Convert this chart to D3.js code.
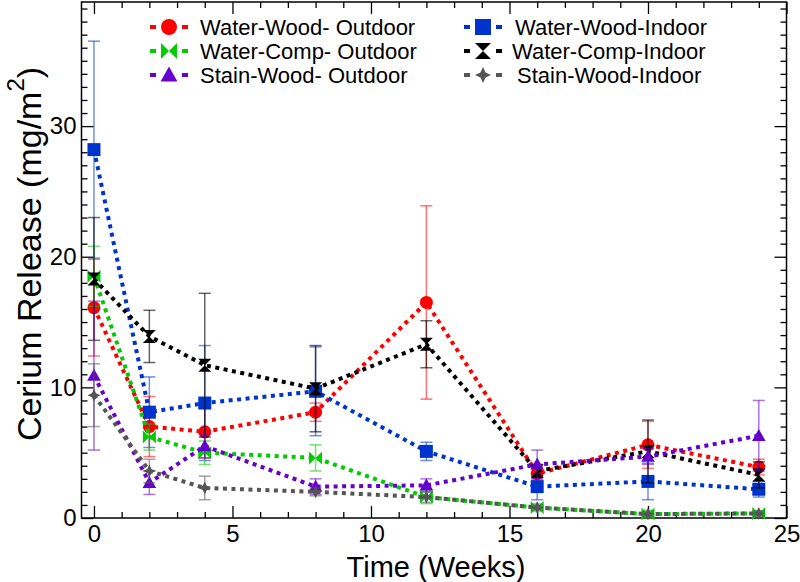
<!DOCTYPE html>
<html><head><meta charset="utf-8">
<script src="https://cdn.jsdelivr.net/npm/d3@7/dist/d3.min.js"></script>
<style>body{margin:0;background:#fff}svg{display:block}text{font-family:"Liberation Sans",Arial,sans-serif}</style>
</head><body>
<svg id="c" width="800" height="582"></svg>
<script>
const weeks = [0, 2, 4, 8, 12, 16, 20, 24];
const seriesNames = ["Water-Wood- Outdoor", "Water-Wood-Indoor", "Water-Comp- Outdoor", "Water-Comp-Indoor", "Stain-Wood- Outdoor", "Stain-Wood-Indoor"];
const wwOut = [16.1, 7.0, 6.6, 8.1, 16.5, 3.4, 5.6, 3.9];
const wwOutErr = [3.7, 2.3, 2.0, 0.7, 7.4, 0.5, 1.8, 0.6];
const wwIn = [28.2, 8.1, 8.8, 9.7, 5.1, 2.4, 2.8, 2.2];
const wwInErr = [8.3, 2.7, 4.4, 3.4, 0.7, 1.0, 1.4, 0.6];
const wcOut = [18.5, 6.2, 5.0, 4.6, 1.6, 0.8, 0.3, 0.35];
const wcOutErr = [2.3, 1.0, 0.9, 1.0, 0.5, 0.3, 0.3, 0.2];
const wcIn = [18.3, 13.9, 11.7, 9.9, 13.3, 3.6, 5.1, 3.3];
const wcInErr = [4.7, 2.0, 5.5, 3.3, 1.8, 0.5, 2.4, 1.0];
const swOut = [10.9, 2.7, 5.5, 2.4, 2.5, 4.1, 4.7, 6.3];
const swOutErr = [5.7, 0.9, 0.9, 0.6, 0.5, 1.1, 0.6, 2.7];
const swIn = [9.4, 3.6, 2.3, 2.0, 1.6, 0.8, 0.3, 0.35];
const swInErr = [2.4, 0.9, 0.9, 0.3, 0.4, 0.2, 0.2, 0.2];
const xTicks = [0, 5, 10, 15, 20, 25];
const yTicks = [0, 10, 20, 30];

const colors = ["#ff0000", "#0033cc", "#00cc00", "#000000", "#6600cc", "#555555"];
const shapes = ["circle", "square", "bowtie", "hourglass", "triangle", "star"];
const values = [wwOut, wwIn, wcOut, wcIn, swOut, swIn];
const errs = [wwOutErr, wwInErr, wcOutErr, wcInErr, swOutErr, swInErr];

const L = 81.5, R = 786.5, T = 2, B = 518;
const svg = d3.select("#c");
const x = d3.scaleLinear().domain([-0.45, 25]).range([L, R]);
const y = d3.scaleLinear().domain([0, 39.5]).range([B, T]);

function shapePath(type, s) {
  const h = s / 2;
  switch (type) {
    case "circle": return d3.symbol(d3.symbolCircle, Math.PI * h * h)();
    case "square": return `M${-h},${-h}H${h}V${h}H${-h}Z`;
    case "triangle": return `M0,${-h * 1.05}L${h * 1.05},${h * 0.8}L${-h * 1.05},${h * 0.8}Z`;
    case "bowtie": return `M${-h},${-h}L0,0L${-h},${h}Z M${h},${-h}L0,0L${h},${h}Z`;
    case "hourglass": return `M${-h},${-h}H${h}L0,0Z M${-h},${h}H${h}L0,0Z`;
    case "star": { const a = h * 0.32; return `M0,${-h}L${a},${-a}L${h},0L${a},${a}L0,${h}L${-a},${a}L${-h},0L${-a},${-a}Z`; }
  }
}

// axes (ticks inward on all four sides)
const minorX = d3.range(0, 26, 1).filter(v => v % 5 !== 0);
const minorY = d3.range(1, 40, 1).filter(v => v % 10 !== 0);
const fs = 24;
function styleAxis(g) { g.select(".domain").remove(); g.selectAll("line").attr("stroke", "#000").attr("stroke-width", 1.3); g.selectAll("text").attr("font-size", fs).attr("fill", "#000").style("font-family", '"Liberation Sans",Arial,sans-serif'); }
svg.append("g").attr("transform", `translate(0,${B})`).call(d3.axisBottom(x).tickValues(xTicks).tickSize(-12).tickPadding(7).tickFormat(d3.format("d"))).call(styleAxis);
svg.append("g").attr("transform", `translate(0,${B})`).call(d3.axisBottom(x).tickValues(minorX).tickSize(-6).tickFormat("")).call(styleAxis);
svg.append("g").attr("transform", `translate(0,${T})`).call(d3.axisTop(x).tickValues(xTicks).tickSize(-12).tickFormat("")).call(styleAxis);
svg.append("g").attr("transform", `translate(0,${T})`).call(d3.axisTop(x).tickValues(minorX).tickSize(-6).tickFormat("")).call(styleAxis);
svg.append("g").attr("transform", `translate(${L},0)`).call(d3.axisLeft(y).tickValues(yTicks).tickSize(-12).tickPadding(5).tickFormat(d3.format("d"))).call(styleAxis);
svg.append("g").attr("transform", `translate(${L},0)`).call(d3.axisLeft(y).tickValues(minorY).tickSize(-6).tickFormat("")).call(styleAxis);
svg.append("g").attr("transform", `translate(${R},0)`).call(d3.axisRight(y).tickValues(yTicks).tickSize(-12).tickFormat("")).call(styleAxis);
svg.append("g").attr("transform", `translate(${R},0)`).call(d3.axisRight(y).tickValues(minorY).tickSize(-6).tickFormat("")).call(styleAxis);
svg.append("rect").attr("x", L).attr("y", T).attr("width", R - L).attr("height", B - T).attr("fill", "none").attr("stroke", "#000").attr("stroke-width", 1.5);

// axis titles
svg.append("text").attr("x", (L + R) / 2 + 2).attr("y", 577).attr("text-anchor", "middle").attr("font-size", 29).text("Time (Weeks)");
const yt = svg.append("text").attr("transform", `translate(41,254) rotate(-90)`).attr("text-anchor", "middle").attr("font-size", 34);
yt.append("tspan").text("Cerium Release (mg/m");
yt.append("tspan").attr("font-size", 24).attr("dy", -17).text("2");
yt.append("tspan").attr("dy", 17).text(")");

// series
const line = d3.line().x(d => x(d[0])).y(d => y(d[1]));
values.forEach((vals, i) => {
  const g = svg.append("g");
  const pts = weeks.map((w, j) => [w, vals[j], errs[i][j]]);
  const eg = g.append("g").attr("stroke", colors[i]).attr("stroke-opacity", i === 3 ? 0.6 : 0.55).attr("stroke-width", 1.5);
  pts.forEach(p => {
    const x0 = x(p[0]), y1 = y(p[1] + p[2]), y2 = y(Math.max(0, p[1] - p[2]));
    eg.append("line").attr("x1", x0).attr("x2", x0).attr("y1", y1).attr("y2", y2);
    eg.append("line").attr("x1", x0 - 6).attr("x2", x0 + 6).attr("y1", y1).attr("y2", y1);
    eg.append("line").attr("x1", x0 - 6).attr("x2", x0 + 6).attr("y1", y2).attr("y2", y2);
  });
  g.append("path").datum(pts).attr("d", line).attr("fill", "none").attr("stroke", colors[i]).attr("stroke-width", 4).attr("stroke-dasharray", "4 4.5");
  g.selectAll(".m").data(pts).enter().append("path")
    .attr("transform", d => `translate(${x(d[0])},${y(d[1])})`)
    .attr("d", shapePath(shapes[i], 13)).attr("fill", colors[i]);
});

// legend
const legRows = [27, 51, 75];
seriesNames.forEach((name, i) => {
  const col = i % 2, row = Math.floor(i / 2);
  const cx = col === 0 ? 169 : 483;
  const cy = legRows[row];
  const tx = col === 0 ? 200 : [515, 512, 517][row];
  const g = svg.append("g");
  g.append("rect").attr("x", cx - 19).attr("y", cy - 2).attr("width", 6).attr("height", 4).attr("fill", colors[i]);
  g.append("rect").attr("x", cx + 13).attr("y", cy - 2).attr("width", 6).attr("height", 4).attr("fill", colors[i]);
  g.append("path").attr("transform", `translate(${cx},${cy})`).attr("d", shapePath(shapes[i], 16)).attr("fill", colors[i]);
  g.append("text").attr("x", tx).attr("y", cy + 8).attr("font-size", 22).text(name);
});
</script>
</body></html>
